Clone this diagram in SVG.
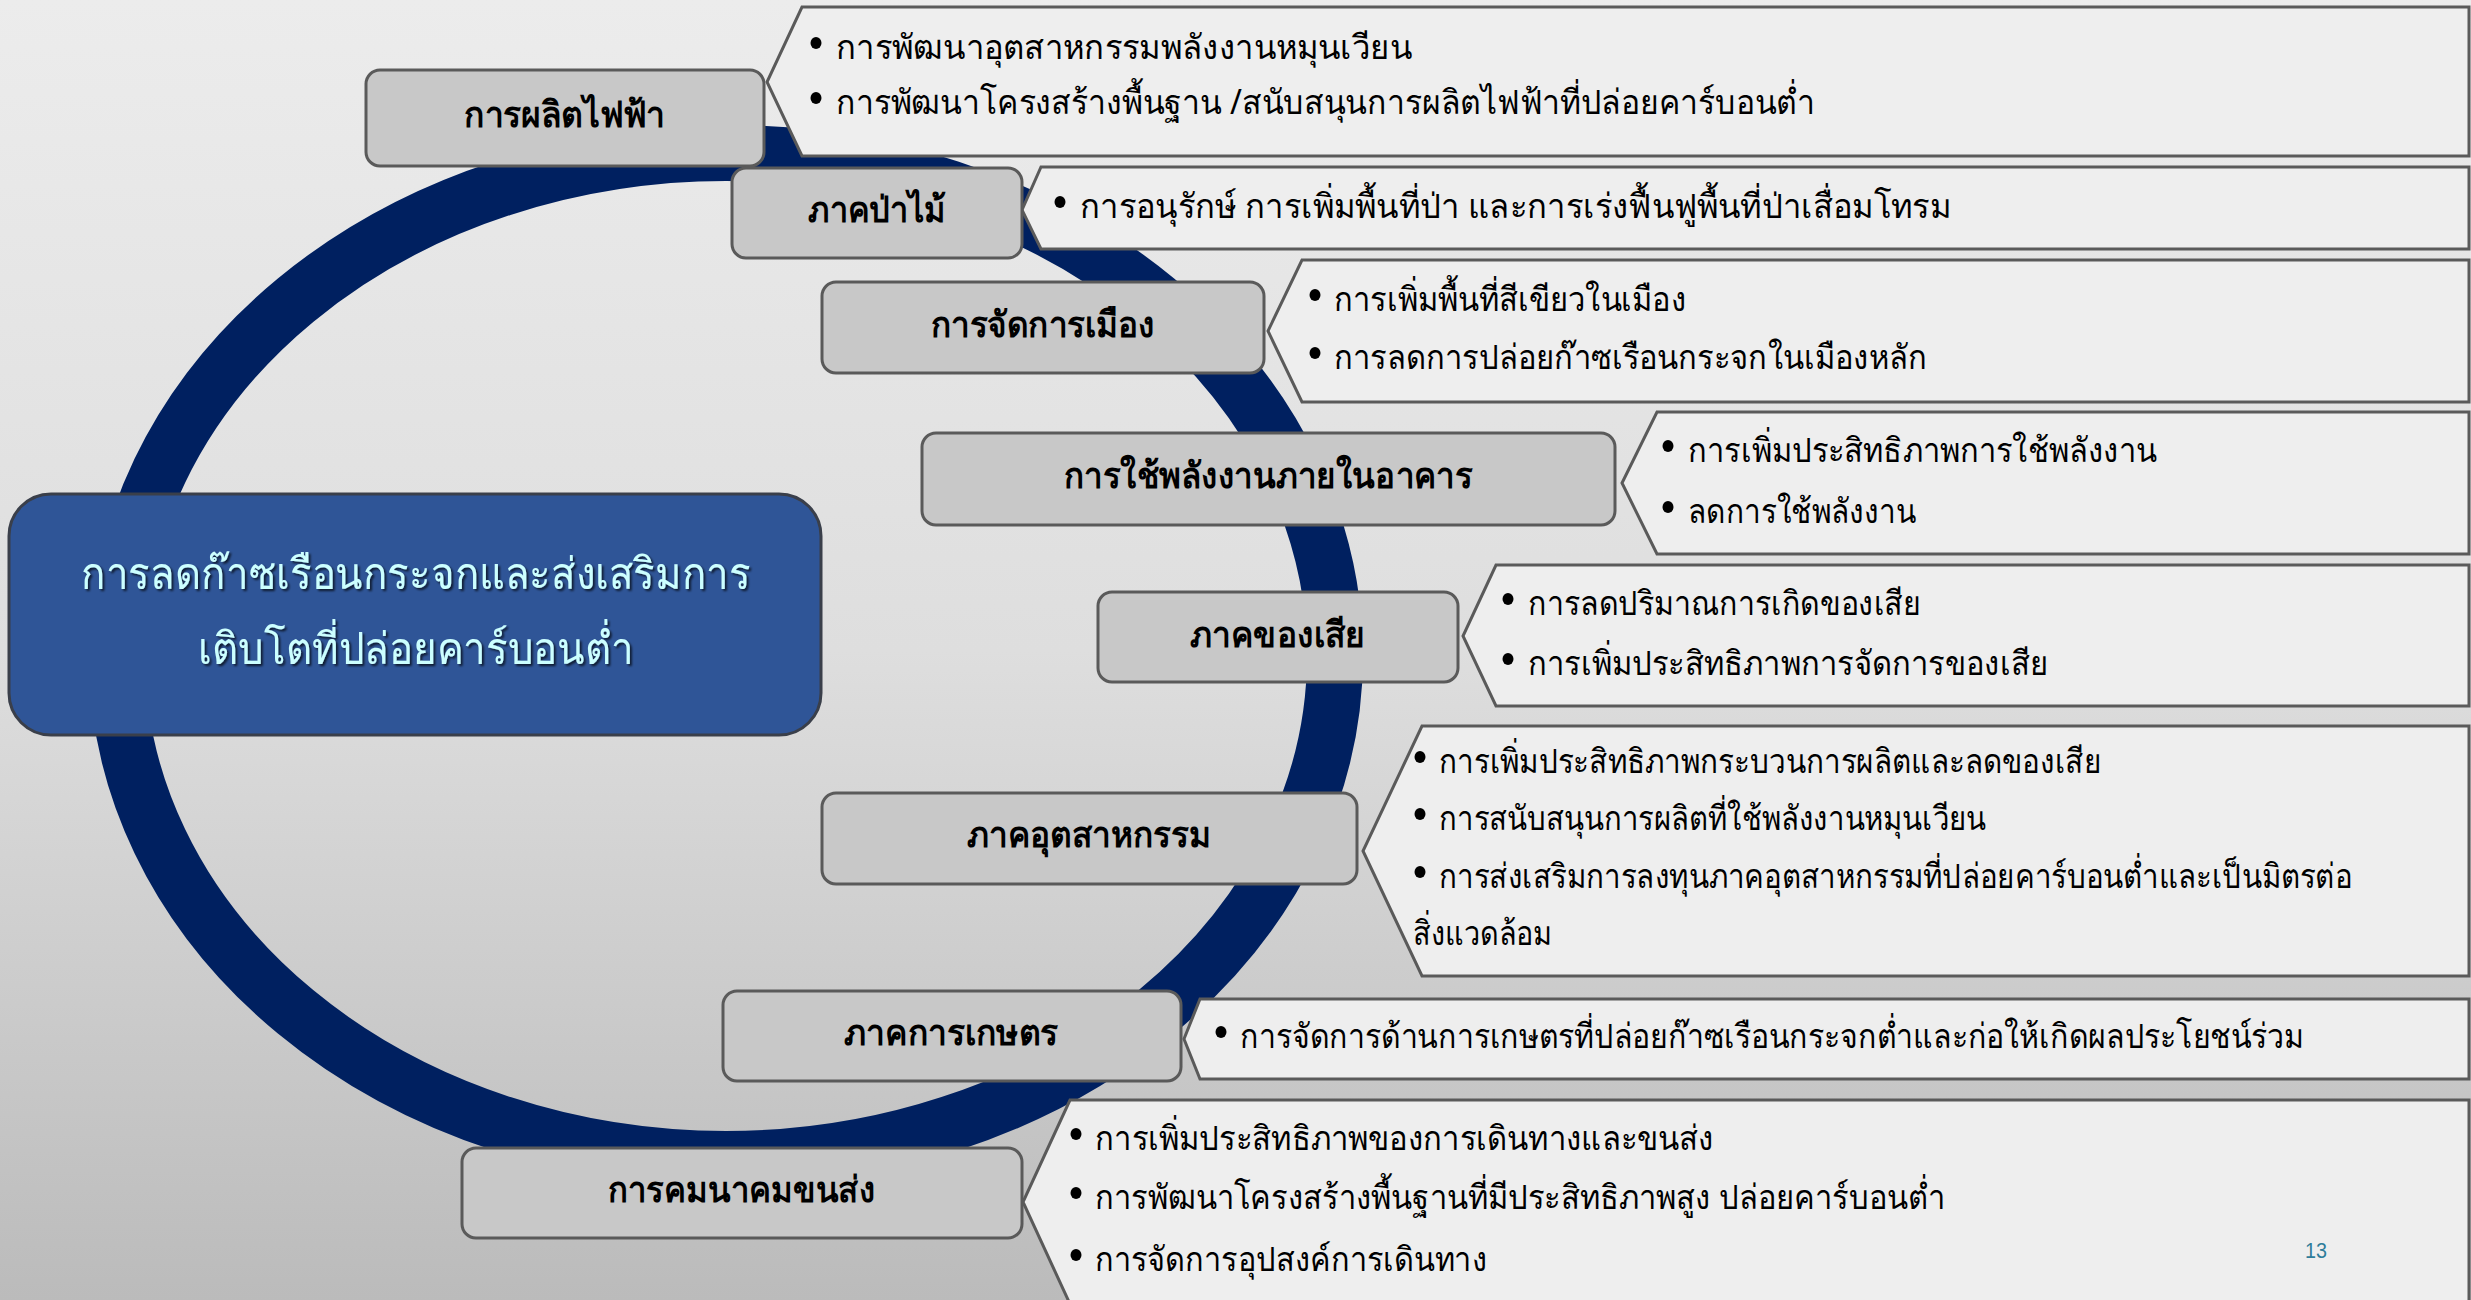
<svg xmlns="http://www.w3.org/2000/svg" width="2471" height="1300" viewBox="0 0 2471 1300">
<defs>
<linearGradient id="bg" x1="0" y1="0" x2="0" y2="1">
<stop offset="0" stop-color="#ececec"/>
<stop offset="0.5" stop-color="#dedede"/>
<stop offset="1" stop-color="#bbbbbb"/>
</linearGradient>
<filter id="shadow" x="-5%" y="-20%" width="110%" height="140%">
<feDropShadow dx="2" dy="2" stdDeviation="1" flood-color="#000000" flood-opacity="0.7"/>
</filter>
<style>
.node rect.box{fill:#c8c8c8;stroke:#5a5a5a;stroke-width:3}
.panel{fill:#eeeeee;stroke:#5a5a5a;stroke-width:3}
.lbl{font-family:"Noto Sans","DejaVu Sans",sans-serif;font-size:36px;font-weight:bold;fill:#000000}
.itm{font-family:"Noto Sans","DejaVu Sans",sans-serif;font-size:34px;fill:#000000}
.main{font-family:"Noto Sans","DejaVu Sans",sans-serif;font-size:44px;fill:#ccffff}
.dot{fill:#000000}
</style>
</defs>
<rect x="0" y="0" width="2471" height="1300" fill="url(#bg)"/>
<g id="connectors">
<ellipse cx="726" cy="656" rx="609" ry="503" fill="none" stroke="#002060" stroke-width="56"/>
</g>
<g id="center" class="node">
<rect x="9" y="494" width="812" height="241" rx="42" fill="#2f5597" stroke="#3a3f4a" stroke-width="3"/>
<g filter="url(#shadow)">
<text class="main" x="81" y="589" textLength="670" lengthAdjust="spacingAndGlyphs">การลดก๊าซเรือนกระจกและส่งเสริมการ</text>
<text class="main" x="198" y="664" textLength="436" lengthAdjust="spacingAndGlyphs">เติบโตที่ปล่อยคาร์บอนต่ำ</text>
</g>
</g>
<g id="n1" class="node">
<path class="panel" d="M802,7 H2469 V156 H802 L767,82 Z"/>
<rect class="box" x="366" y="70" width="398" height="96" rx="14"/>
<text class="lbl" x="464" y="127" textLength="201" lengthAdjust="spacingAndGlyphs">การผลิตไฟฟ้า</text>
<ellipse class="dot" cx="816" cy="43" rx="5.5" ry="6"/>
<text class="itm" x="836" y="59" textLength="576" lengthAdjust="spacingAndGlyphs">การพัฒนาอุตสาหกรรมพลังงานหมุนเวียน</text>
<ellipse class="dot" cx="816" cy="98" rx="5.5" ry="6"/>
<text class="itm" x="836" y="114" textLength="979" lengthAdjust="spacingAndGlyphs">การพัฒนาโครงสร้างพื้นฐาน /สนับสนุนการผลิตไฟฟ้าที่ปล่อยคาร์บอนต่ำ</text>
</g>
<g id="n2" class="node">
<path class="panel" d="M1041,167 H2469 V249 H1041 L1022,210 Z"/>
<rect class="box" x="732" y="168" width="290" height="90" rx="14"/>
<text class="lbl" x="808" y="222" textLength="138" lengthAdjust="spacingAndGlyphs">ภาคป่าไม้</text>
<ellipse class="dot" cx="1060" cy="202" rx="5.5" ry="6"/>
<text class="itm" x="1080" y="218" textLength="871" lengthAdjust="spacingAndGlyphs">การอนุรักษ์ การเพิ่มพื้นที่ป่า และการเร่งฟื้นฟูพื้นที่ป่าเสื่อมโทรม</text>
</g>
<g id="n3" class="node">
<path class="panel" d="M1302,260 H2469 V402 H1302 L1268,331 Z"/>
<rect class="box" x="822" y="282" width="442" height="91" rx="14"/>
<text class="lbl" x="931" y="337" textLength="224" lengthAdjust="spacingAndGlyphs">การจัดการเมือง</text>
<ellipse class="dot" cx="1315" cy="295" rx="5.5" ry="6"/>
<text class="itm" x="1334" y="311" textLength="352" lengthAdjust="spacingAndGlyphs">การเพิ่มพื้นที่สีเขียวในเมือง</text>
<ellipse class="dot" cx="1315" cy="353" rx="5.5" ry="6"/>
<text class="itm" x="1334" y="369" textLength="593" lengthAdjust="spacingAndGlyphs">การลดการปล่อยก๊าซเรือนกระจกในเมืองหลัก</text>
</g>
<g id="n4" class="node">
<path class="panel" d="M1657,412 H2469 V554 H1657 L1622,483 Z"/>
<rect class="box" x="922" y="433" width="693" height="92" rx="14"/>
<text class="lbl" x="1064" y="488" textLength="408" lengthAdjust="spacingAndGlyphs">การใช้พลังงานภายในอาคาร</text>
<ellipse class="dot" cx="1668" cy="446" rx="5.5" ry="6"/>
<text class="itm" x="1688" y="462" textLength="469" lengthAdjust="spacingAndGlyphs">การเพิ่มประสิทธิภาพการใช้พลังงาน</text>
<ellipse class="dot" cx="1668" cy="507" rx="5.5" ry="6"/>
<text class="itm" x="1688" y="523" textLength="228" lengthAdjust="spacingAndGlyphs">ลดการใช้พลังงาน</text>
</g>
<g id="n5" class="node">
<path class="panel" d="M1496,565 H2469 V706 H1496 L1463,636 Z"/>
<rect class="box" x="1098" y="592" width="360" height="90" rx="14"/>
<text class="lbl" x="1190" y="647" textLength="175" lengthAdjust="spacingAndGlyphs">ภาคของเสีย</text>
<ellipse class="dot" cx="1508" cy="599" rx="5.5" ry="6"/>
<text class="itm" x="1528" y="615" textLength="393" lengthAdjust="spacingAndGlyphs">การลดปริมาณการเกิดของเสีย</text>
<ellipse class="dot" cx="1508" cy="659" rx="5.5" ry="6"/>
<text class="itm" x="1528" y="675" textLength="520" lengthAdjust="spacingAndGlyphs">การเพิ่มประสิทธิภาพการจัดการของเสีย</text>
</g>
<g id="n6" class="node">
<path class="panel" d="M1422,726 H2469 V976 H1422 L1363,851 Z"/>
<rect class="box" x="822" y="793" width="535" height="91" rx="14"/>
<text class="lbl" x="967" y="847" textLength="244" lengthAdjust="spacingAndGlyphs">ภาคอุตสาหกรรม</text>
<ellipse class="dot" cx="1420" cy="757" rx="5.5" ry="6"/>
<text class="itm" x="1439" y="773" textLength="662" lengthAdjust="spacingAndGlyphs">การเพิ่มประสิทธิภาพกระบวนการผลิตและลดของเสีย</text>
<ellipse class="dot" cx="1420" cy="814" rx="5.5" ry="6"/>
<text class="itm" x="1439" y="830" textLength="547" lengthAdjust="spacingAndGlyphs">การสนับสนุนการผลิตที่ใช้พลังงานหมุนเวียน</text>
<ellipse class="dot" cx="1420" cy="872" rx="5.5" ry="6"/>
<text class="itm" x="1439" y="888" textLength="913" lengthAdjust="spacingAndGlyphs">การส่งเสริมการลงทุนภาคอุตสาหกรรมที่ปล่อยคาร์บอนต่ำและเป็นมิตรต่อ</text>
<text class="itm" x="1413" y="945" textLength="139" lengthAdjust="spacingAndGlyphs">สิ่งแวดล้อม</text>
</g>
<g id="n7" class="node">
<path class="panel" d="M1200,999 H2469 V1079 H1200 L1184,1039 Z"/>
<rect class="box" x="723" y="991" width="458" height="90" rx="14"/>
<text class="lbl" x="844" y="1045" textLength="214" lengthAdjust="spacingAndGlyphs">ภาคการเกษตร</text>
<ellipse class="dot" cx="1221" cy="1032" rx="5.5" ry="6"/>
<text class="itm" x="1240" y="1048" textLength="1064" lengthAdjust="spacingAndGlyphs">การจัดการด้านการเกษตรที่ปล่อยก๊าซเรือนกระจกต่ำและก่อให้เกิดผลประโยชน์ร่วม</text>
</g>
<g id="n8" class="node">
<path class="panel" d="M1070,1100 H2469 V1304 H1070 L1023,1202 Z"/>
<rect class="box" x="462" y="1148" width="560" height="90" rx="14"/>
<text class="lbl" x="608" y="1202" textLength="267" lengthAdjust="spacingAndGlyphs">การคมนาคมขนส่ง</text>
<ellipse class="dot" cx="1076" cy="1134" rx="5.5" ry="6"/>
<text class="itm" x="1095" y="1150" textLength="619" lengthAdjust="spacingAndGlyphs">การเพิ่มประสิทธิภาพของการเดินทางและขนส่ง</text>
<ellipse class="dot" cx="1076" cy="1193" rx="5.5" ry="6"/>
<text class="itm" x="1095" y="1209" textLength="850" lengthAdjust="spacingAndGlyphs">การพัฒนาโครงสร้างพื้นฐานที่มีประสิทธิภาพสูง ปล่อยคาร์บอนต่ำ</text>
<ellipse class="dot" cx="1076" cy="1255" rx="5.5" ry="6"/>
<text class="itm" x="1095" y="1271" textLength="392" lengthAdjust="spacingAndGlyphs">การจัดการอุปสงค์การเดินทาง</text>
</g>
<text x="2305" y="1258" font-family="Liberation Sans, sans-serif" font-size="22" fill="#2e7d9a" textLength="22" lengthAdjust="spacingAndGlyphs">13</text>
</svg>
